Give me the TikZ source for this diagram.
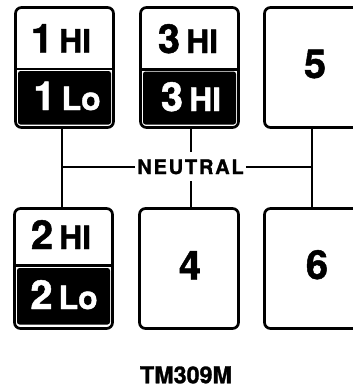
\documentclass[tikz,border=0pt]{standalone}
\usepackage{fontspec}
\setmainfont{TeX Gyre Heros}[BoldFeatures={FakeBold=1.2}]
\begin{document}
\begin{tikzpicture}[x=1pt,y=-1pt,
  gbox/.style={draw=black,line width=2.7pt,rounded corners=6pt,inner sep=0pt,minimum height=120pt,fill=white},
  conn/.style={draw=black,line width=2pt},
  divider/.style={draw=black,line width=2.6pt},
  blk/.style={fill=black,rounded corners=2.5pt},
  lab/.style={inner sep=0pt,anchor=base,font=\bfseries},
  digit/.style={inner sep=0pt,anchor=base,font=\fontsize{40}{40}\bfseries\selectfont}]
\useasboundingbox (0,0) rectangle (353,391);
\newcommand\gtxt[3]{\textcolor{#3}{\fontsize{40}{40}\bfseries\selectfont #1\hspace{6pt}\fontsize{32}{32}\selectfont #2}}
% boxes
\node[gbox,minimum width=98pt] (b1) at (64.5,67.5) {};
\node[gbox,minimum width=98pt] (b3) at (189.5,67.5) {};
\node[gbox,minimum width=98pt] (b5) at (313.5,67.5) {};
\node[gbox,minimum width=98pt] (b2) at (63.5,268.5) {};
\node[gbox,minimum width=99pt] (b4) at (189,268.5) {};
\node[gbox,minimum width=98pt] (b6) at (313.5,268.5) {};
% dividers and dark halves
\draw[divider] (15.5,69) -- (113.5,69);
\fill[blk] (18,71) rectangle (111,124.5);
\draw[divider] (140.5,69.3) -- (238.5,69.3);
\fill[blk] (143,71.5) rectangle (236,124.5);
\draw[divider] (14.5,265.5) -- (112.5,265.5);
\fill[blk] (17,268) rectangle (110,324.5);
% labels
\node[lab] (t1a) at (61,52.5) {\gtxt{1}{HI}{black}};
\node[lab] (t1b) at (67,110) {\gtxt{1}{Lo}{white}};
\node[lab] (t3a) at (188,53) {\gtxt{3}{HI}{black}};
\node[lab] (t3b) at (191,111) {\gtxt{3}{HI}{white}};
\node[lab] (t2a) at (61,249) {\gtxt{2}{HI}{black}};
\node[lab] (t2b) at (64,309) {\gtxt{2}{Lo}{white}};
\node[digit] (t5) at (315,78) {5};
\node[digit] (t4) at (190,279.5) {4};
\node[digit] (t6) at (317,279) {6};
% neutral
\node[inner xsep=2pt,inner ysep=7pt,anchor=base,font=\fontsize{20}{20}\bfseries\selectfont] (neutral) at (190.5,174) {\addfontfeatures{LetterSpace=9}NEUTRAL};
\coordinate (lbus) at ([xshift=-2.5pt]b1.south);
\coordinate (rbus) at ([xshift=-1.5pt]b5.south);
\draw[conn] (lbus) -- (lbus |- b2.north);
\draw[conn] (rbus) -- (rbus |- b6.north);
\draw[conn] (neutral.west) -- (neutral.west -| lbus);
\draw[conn] (neutral.east) -- (neutral.east -| rbus);
\draw[conn] (neutral.north) -- (neutral.north |- b3.south);
\draw[conn] (neutral.south) -- (neutral.south |- b4.north);
% code
\node[lab,font=\fontsize{23.3}{23.3}\bfseries\selectfont] (code) at (186,383.3) {TM309M};
\end{tikzpicture}
\end{document}
